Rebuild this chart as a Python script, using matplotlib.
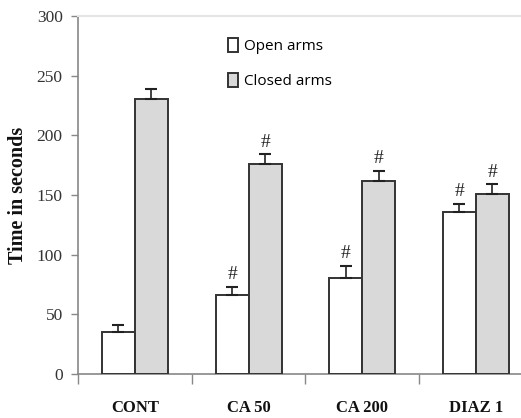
import matplotlib
matplotlib.use("Agg")
import matplotlib.pyplot as plt
import numpy as np

categories = ["CONT", "CA 50", "CA 200", "DIAZ 1"]
open_arms = [35.5, 66, 80.5, 135.5]
open_err = [5.5, 7, 10, 7]
closed_arms = [230.5, 176, 162, 150.5]
closed_err = [8, 8, 8.5, 8.5]
open_sig = ["", "#", "#", "#"]
closed_sig = ["", "#", "#", "#"]
series_names = ["Open arms", "Closed arms"]
yticks = [0, 50, 100, 150, 200, 250, 300]

fig = plt.figure(figsize=(5.21, 4.18), dpi=100)
ax = fig.add_axes([78/521, 1-374/418, 1-78/521, (374-16)/418])

x = np.arange(len(categories))
w = 0.29
ekw = dict(ecolor="#222222", elinewidth=1.2, capsize=4, capthick=1.5)
b1 = ax.bar(x - w/2, open_arms, w, color="white", edgecolor="#333333", linewidth=1.4,
            yerr=[np.zeros(4), open_err], error_kw=ekw, label=series_names[0], zorder=3)
b2 = ax.bar(x + w/2, closed_arms, w, color="#d9d9d9", edgecolor="#333333", linewidth=1.4,
            yerr=[np.zeros(4), closed_err], error_kw=ekw, label=series_names[1], zorder=3)

for i in range(len(categories)):
    if open_sig[i]:
        ax.text(x[i] - w/2, open_arms[i] + open_err[i] + 3, open_sig[i], ha="center", va="bottom",
                family="Liberation Serif", fontsize=14, color="#222222")
    if closed_sig[i]:
        ax.text(x[i] + w/2, closed_arms[i] + closed_err[i] + 3, closed_sig[i], ha="center", va="bottom",
                family="Liberation Serif", fontsize=14, color="#222222")

ax.set_xlim(-0.5, -0.5 + 443/113.7)
ax.set_ylim(0, 300)
ax.set_yticks(yticks)
ax.set_yticklabels([str(v) for v in yticks], family="Liberation Serif", fontsize=12.5, color="#333333")
ax.set_xticks([-0.5, 0.5, 1.5, 2.5])
ax.set_xticklabels([])
ax.set_xticks(x, minor=True)
ax.set_xticklabels(categories, minor=True, family="Liberation Serif", fontweight="bold",
                   fontsize=12, color="#111111")
ax.tick_params(axis="x", which="major", direction="out", length=7, color="#888888", width=1)
ax.tick_params(axis="x", which="minor", length=0, pad=19)
ax.tick_params(axis="y", direction="out", length=5, color="#888888", width=1, pad=6)

ax.spines["left"].set_color("#888888")
ax.spines["bottom"].set_color("#888888")
ax.spines["left"].set_linewidth(1.2)
ax.spines["bottom"].set_linewidth(1.2)
ax.spines["top"].set_color("#e4e4e4")
ax.spines["top"].set_linewidth(1.5)
ax.spines["right"].set_visible(False)

ax.set_ylabel("Time in seconds", family="Liberation Serif", fontweight="bold", fontsize=14.5,
              labelpad=6, color="#111111")

leg = ax.legend(handles=[b1, b2], loc="upper left", bbox_to_anchor=(214/521, 1-24/418),
                bbox_transform=fig.transFigure, frameon=False, handlelength=0.65, handleheight=1.1,
                handletextpad=0.4, labelspacing=1.2, prop={"family": "Open Sans", "size": 11})

fig.savefig("out.png", dpi=100)
